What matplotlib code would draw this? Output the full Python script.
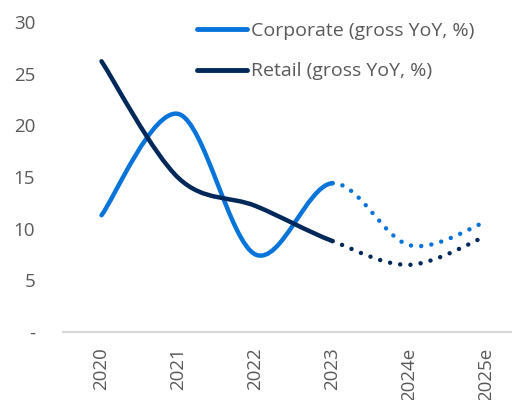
import matplotlib
matplotlib.use("Agg")
import matplotlib.pyplot as plt
from matplotlib.path import Path
from matplotlib.patches import PathPatch
from matplotlib.lines import Line2D

categories = ["2020", "2021", "2022", "2023", "2024e", "2025e"]
corporate = [11.3, 21.1, 7.5, 14.4, 8.4, 10.7]
retail = [26.2, 14.9, 12.2, 8.8, 6.5, 9.3]
n_actual = 4  # 2020-2023 actual, rest estimates
yticks = [0, 5, 10, 15, 20, 25, 30]
yticklabels = ["-", "5", "10", "15", "20", "25", "30"]

C_CORP = "#0874DA"
C_RET = "#00285A"
GREY = "#595959"
FONT = "Open Sans"

fig = plt.figure(figsize=(5.12, 4.0), dpi=100)
ax = fig.add_axes([63/512, 68/400, (525-63)/512, (332-22)/400])


def bezier_segments(xs, ys):
    pts = list(zip(xs, ys))
    m = len(pts)
    segs = []
    for i in range(m - 1):
        p0 = pts[i - 1] if i > 0 else pts[i]
        p1 = pts[i]
        p2 = pts[i + 1]
        p3 = pts[i + 2] if i + 2 < m else pts[i + 1]
        c1 = (p1[0] + (p2[0] - p0[0]) / 6, p1[1] + (p2[1] - p0[1]) / 6)
        c2 = (p2[0] - (p3[0] - p1[0]) / 6, p2[1] - (p3[1] - p1[1]) / 6)
        segs.append((p1, c1, c2, p2))
    return segs


def draw_series(vals, color):
    xs = list(range(len(vals)))
    segs = bezier_segments(xs, vals)
    for part, ls in ((segs[:n_actual - 1], "solid"), (segs[n_actual - 1:], "dotted")):
        verts, codes = [], []
        for k, (a, b, c, d) in enumerate(part):
            if k == 0:
                verts.append(a)
                codes.append(Path.MOVETO)
            verts += [b, c, d]
            codes += [Path.CURVE4] * 3
        patch = PathPatch(Path(verts, codes), fill=False, edgecolor=color,
                          linewidth=3.2, clip_on=False)
        patch.set_capstyle("round")
        patch.set_joinstyle("round")
        if ls == "dotted":
            patch.set_linestyle((0, (0.01, 2.3)))
        ax.add_patch(patch)


draw_series(corporate, C_CORP)
draw_series(retail, C_RET)

ax.set_xlim(-0.5, len(categories) - 0.5)
ax.set_ylim(0, 30)
ax.set_yticks(yticks)
ax.set_yticklabels(yticklabels)
ax.set_xticks(range(len(categories)))
ax.set_xticklabels(categories, rotation=90)
ax.tick_params(axis="y", length=0, pad=20, labelsize=13.5, labelcolor=GREY)
ax.tick_params(axis="x", length=0, pad=11, labelsize=13.5, labelcolor=GREY)
for lab in ax.get_xticklabels() + ax.get_yticklabels():
    lab.set_fontfamily(FONT)
for s in ("top", "right", "left"):
    ax.spines[s].set_visible(False)
ax.spines["bottom"].set_color("#D9D9D9")
ax.spines["bottom"].set_linewidth(1.5)

handles = [Line2D([], [], color=C_CORP, lw=3.5, solid_capstyle="round"),
           Line2D([], [], color=C_RET, lw=3.5, solid_capstyle="round")]
leg = fig.legend(handles, ["Corporate (gross YoY, %)", "Retail (gross YoY, %)"],
                 loc="upper left", bbox_to_anchor=(189/512, 1 - 14/400),
                 borderaxespad=0, frameon=False, handlelength=2.6,
                 handletextpad=0.2, labelspacing=1.16,
                 prop={"family": FONT, "size": 14})
for t in leg.get_texts():
    t.set_color(GREY)

fig.savefig("out.png", dpi=100)
